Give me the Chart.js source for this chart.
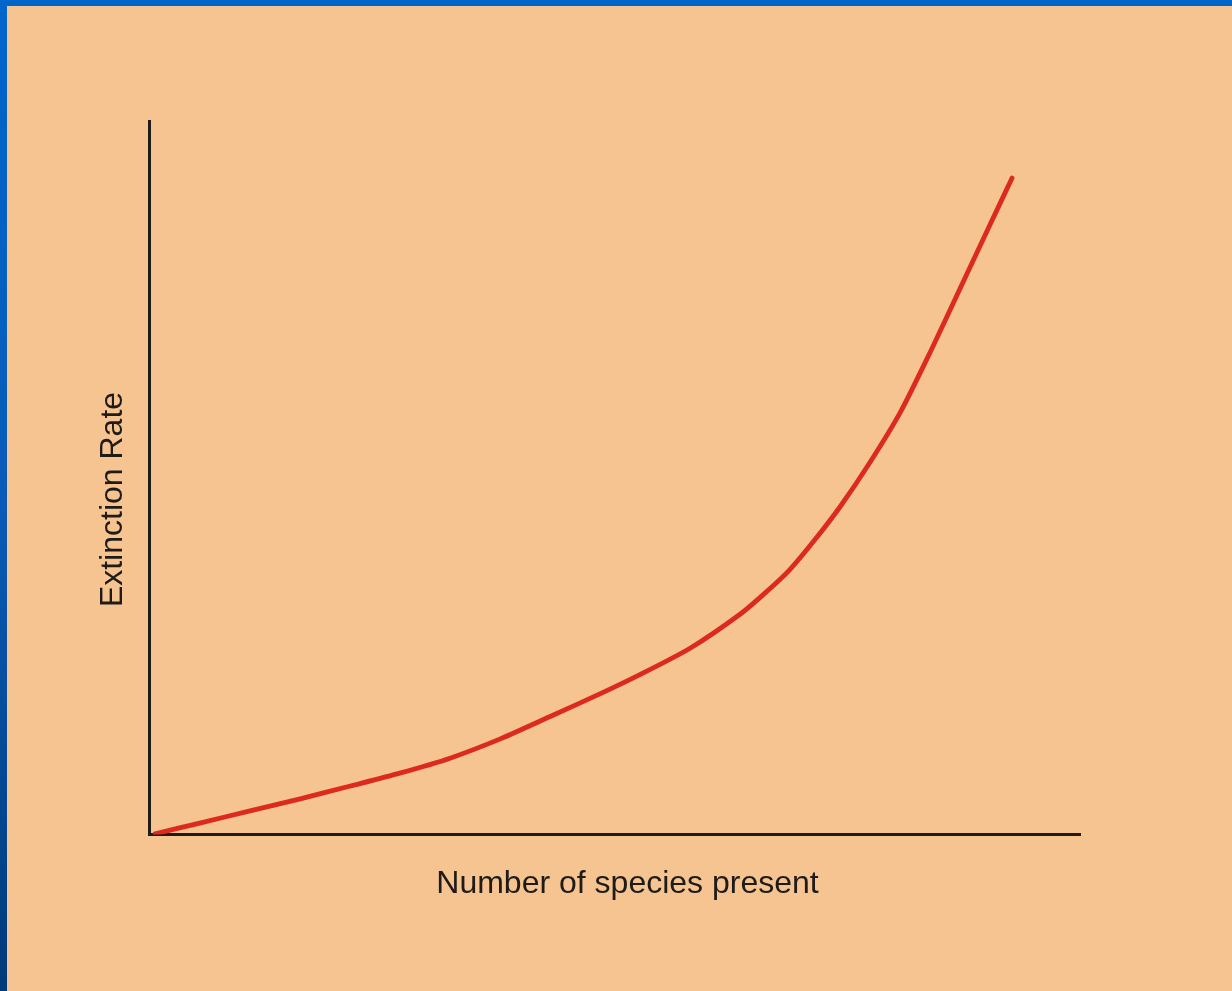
<!DOCTYPE html>
<html>
<head>
<meta charset="utf-8">
<script src="https://cdn.jsdelivr.net/npm/chart.js@4/dist/chart.umd.min.js"></script>
<style>
  html, body { margin: 0; padding: 0; }
  body { width: 1232px; height: 991px; overflow: hidden; position: relative;
         background: linear-gradient(to bottom, #0066cc 0%, #0a5bb8 50%, #003a78 100%); }
  #panel { position: absolute; left: 7px; top: 6px; right: 0; bottom: 0; background: #f5c490; }
  #c { position: absolute; left: 0; top: 0; }
</style>
</head>
<body>
<div id="panel"></div>
<canvas id="c" width="1232" height="991"></canvas>
<script>
// Curve values (axis range 0–100 on both axes, no tick labels shown)
const speciesPresent = [0.6, 5.4, 10.8, 16.2, 21.6, 26.9, 32.3, 37.7, 43.0, 48.4, 52.7, 58.1, 63.5, 66.2, 68.8, 71.5, 74.2, 77.4, 80.7, 83.9, 87.1, 90.3, 92.7];
const extinctionRate = [0.1, 1.6, 3.3, 5.0, 6.8, 8.6, 10.7, 13.4, 16.5, 19.7, 22.4, 26.1, 30.9, 33.9, 37.1, 41.3, 45.9, 52.1, 59.2, 67.6, 76.5, 85.4, 92.0];
const xAxisTitle = 'Number of species present';
const yAxisTitle = 'Extinction Rate';

const points = speciesPresent.map((x, i) => ({ x: x, y: extinctionRate[i] }));
const ink = '#1e1b18';
const font = { family: '"Liberation Sans", Arial, sans-serif', size: 32, weight: 'normal', lineHeight: 1.2 };
const hiddenScale = {
  type: 'linear', min: 0, max: 1, display: true,
  grid: { display: false, drawTicks: false },
  ticks: { display: false },
  border: { display: false }
};

new Chart(document.getElementById('c'), {
  type: 'line',
  data: {
    datasets: [{
      data: points,
      borderColor: '#dd2a1f',
      borderWidth: 4.8,
      borderCapStyle: 'round',
      borderJoinStyle: 'round',
      pointRadius: 0,
      fill: false,
      tension: 0.25
    }]
  },
  options: {
    responsive: false,
    animation: false,
    devicePixelRatio: 1,
    layout: { padding: { top: 8, bottom: 0, left: 23, right: 0 } },
    plugins: {
      legend: { display: false },
      tooltip: { enabled: false },
      title: {
        display: true,
        position: 'left',
        text: yAxisTitle,
        color: ink,
        font: font,
        padding: { top: 70.8, bottom: 17.3 }
      },
      subtitle: {
        display: true,
        position: 'bottom',
        text: xAxisTitle,
        color: ink,
        font: font,
        padding: { top: 30.3, bottom: 87.8 }
      }
    },
    scales: {
      x: {
        type: 'linear', min: 0, max: 100,
        grid: { display: false, drawTicks: false },
        ticks: { display: false },
        border: { display: true, color: ink, width: 3 }
      },
      y: {
        type: 'linear', min: 0, max: 100,
        grid: { display: false, drawTicks: false },
        ticks: { display: false },
        border: { display: true, color: ink, width: 3 }
      },
      xTopSpace: Object.assign({}, hiddenScale, { position: 'top', axis: 'x', afterFit: s => { s.height = 113; } }),
      yRightSpace: Object.assign({}, hiddenScale, { position: 'right', axis: 'y', afterFit: s => { s.width = 152; } })
    }
  }
});
</script>
</body>
</html>
